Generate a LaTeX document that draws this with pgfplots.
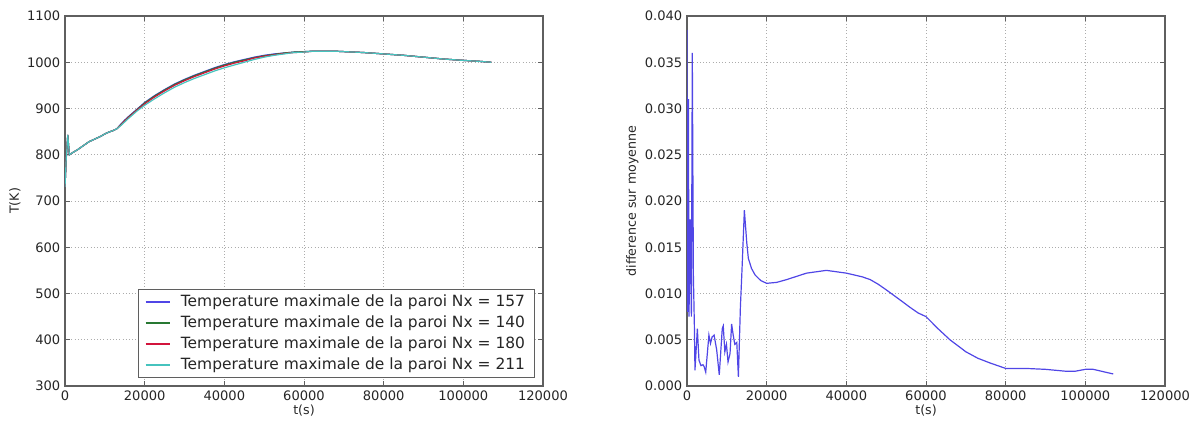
\documentclass[border=0pt]{standalone}
\usepackage{fontspec}
\setmainfont{DejaVu Sans}
\usepackage{pgfplots}
\usepackage{pgfplotstable}
\pgfplotsset{compat=1.18}

\definecolor{cB}{RGB}{80,70,230}
\definecolor{cG}{RGB}{40,120,50}
\definecolor{cR}{RGB}{210,20,60}
\definecolor{cC}{RGB}{70,195,190}
\definecolor{frame}{RGB}{95,95,95}

\pgfplotstableread{
t T
0 730
300 790
700 843
900 820
1100 800
2000 805
3000 810
4000 816
5000 822
6000 828
7000 832
8000 836
9000 840
10000 845
11000 849
12000 852
13000 856
14000 866
15000 875
16000 883
18000 898
20000 913
22500 928
25000 941
27500 953
30000 963
32500 972
35000 980
37500 988
40000 995
42500 1001
45000 1006
47500 1011
50000 1015
52500 1018
55000 1020
57500 1022
60000 1023
62500 1024
65000 1024
67500 1024
70000 1023
75000 1021
80000 1018
85000 1015
90000 1011
95000 1007
100000 1004
104000 1002
107000 1000
}\tabA

\pgfplotstableread{
t T
0 730
300 790
700 843
900 820
1100 800
2000 805
3000 810
4000 816
5000 822
6000 828
7000 832
8000 836
9000 840
10000 845
11000 849
12000 852
13000 856
14000 865
15000 874
16000 882
18000 897
20000 912
22500 927
25000 940
27500 952
30000 962
32500 971
35000 979
37500 987
40000 994
42500 1000
45000 1005
47500 1010
50000 1014
52500 1017
55000 1020
57500 1022
60000 1023
62500 1024
65000 1024
67500 1024
70000 1023
75000 1021
80000 1018
85000 1015
90000 1011
95000 1007
100000 1004
104000 1002
107000 1000
}\tabB

\pgfplotstableread{
t T
0 730
300 790
700 843
900 820
1100 800
2000 805
3000 810
4000 816
5000 822
6000 828
7000 832
8000 836
9000 840
10000 845
11000 849
12000 852
13000 856
14000 864
15000 873
16000 881
18000 896
20000 910
22500 925
25000 938
27500 950
30000 960
32500 969
35000 977
37500 985
40000 992
42500 998
45000 1003
47500 1009
50000 1013
52500 1016
55000 1019
57500 1021
60000 1022
62500 1024
65000 1024
67500 1024
70000 1023
75000 1021
80000 1018
85000 1015
90000 1011
95000 1007
100000 1004
104000 1002
107000 1000
}\tabC

\pgfplotstableread{
t T
0 730
300 790
700 843
900 820
1100 800
2000 805
3000 810
4000 816
5000 822
6000 828
7000 832
8000 836
9000 840
10000 845
11000 849
12000 852
13000 856
14000 863
15000 871
16000 879
18000 894
20000 907
22500 921
25000 934
27500 946
30000 956
32500 965
35000 973
37500 981
40000 988
42500 994
45000 1000
47500 1006
50000 1011
52500 1015
55000 1018
57500 1021
60000 1022
62500 1024
65000 1024
67500 1024
70000 1023
75000 1021
80000 1018
85000 1015
90000 1011
95000 1007
100000 1004
104000 1002
107000 1000
}\tabD

\pgfplotstableread{
t d
0 0.0385
150 0.008
350 0.031
500 0.0075
800 0.018
1100 0.0075
1330 0.036
1600 0.012
1850 0.0065
2000 0.0017
2600 0.0062
3000 0.0028
3500 0.0022
4000 0.0023
4300 0.0021
4700 0.0015
5500 0.0055
5900 0.0046
6300 0.0053
6800 0.0055
7450 0.0039
8100 0.0012
8850 0.0062
9100 0.0065
9500 0.0037
9900 0.0045
10300 0.0026
10800 0.0035
11200 0.0067
11600 0.0055
12000 0.0045
12500 0.0047
12900 0.0010
13400 0.0085
13800 0.0125
14400 0.0190
15000 0.0155
15400 0.0138
16200 0.0127
17100 0.0120
18500 0.0114
20000 0.0111
22500 0.0112
25000 0.0115
30000 0.0122
35000 0.0125
40000 0.0122
44000 0.0118
46000 0.0115
48000 0.0110
50000 0.0104
53500 0.0093
56000 0.0085
58000 0.0079
60000 0.0075
63000 0.0062
66000 0.0050
70000 0.0037
73000 0.0030
76000 0.0025
80000 0.0019
85000 0.0019
90000 0.0018
95000 0.0016
97500 0.0016
100000 0.0018
102000 0.0018
104000 0.0016
107000 0.0013
}\tabDiff

\pgfplotsset{
  mystyle/.style={
    scale only axis,
    width=358.5pt, height=277.5pt,
    xmin=0, xmax=120000,
    xtick={0,20000,40000,60000,80000,100000,120000},
    scaled x ticks=false, scaled y ticks=false,
    grid=major,
    grid style={dotted, gray!65, line width=0.6pt},
    tick align=inside,
    major tick length=3.5pt,
    axis line style={frame, line width=0.9pt},
    tick style={frame, line width=0.6pt},
    /pgf/number format/assume math mode=true,
    /pgf/number format/set thousands separator={},
    x tick label style={/pgf/number format/.cd, set thousands separator={}, fixed},
    ticklabel style={font=\fontsize{9.8}{11}\selectfont, text=black!85},
    label style={font=\fontsize{9.5}{11}\selectfont, text=black!85},
    xlabel={t(s)},
    xlabel style={yshift=4pt},
  }
}

\begin{document}
\begin{tikzpicture}
\path[use as bounding box] (-48.75pt,-27.75pt) rectangle (847.5pt,289.5pt);
\begin{axis}[mystyle,
  at={(0pt,0pt)}, anchor=south west,
  ymin=300, ymax=1100,
  ytick={300,400,500,600,700,800,900,1000,1100},
  ylabel={T(K)},
  ylabel style={yshift=-2pt},
  legend style={at={(0.983,0.022)}, anchor=south east, draw=frame, line width=0.8pt,
    font=\fontsize{11.6}{13}\selectfont, row sep=1.5pt, inner xsep=5pt, inner ysep=2pt,
    text=black!85},
  legend cell align=left,
  legend image code/.code={\draw[#1, line width=1pt] (0pt,0pt) -- (18pt,0pt);},
]
\addplot[cB, line width=0.9pt] table[x=t, y=T] {\tabA};
\addlegendentry{\hspace{6pt}Temperature maximale de la paroi Nx = 157}
\addplot[cG, line width=0.9pt] table[x=t, y=T] {\tabB};
\addlegendentry{\hspace{6pt}Temperature maximale de la paroi Nx = 140}
\addplot[cR, line width=0.9pt] table[x=t, y=T] {\tabC};
\addlegendentry{\hspace{6pt}Temperature maximale de la paroi Nx = 180}
\addplot[cC, line width=0.9pt] table[x=t, y=T] {\tabD};
\addlegendentry{\hspace{6pt}Temperature maximale de la paroi Nx = 211}
\end{axis}

\begin{axis}[mystyle,
  at={(466.5pt,0pt)}, anchor=south west,
  ymin=0, ymax=0.04,
  ytick={0,0.005,0.01,0.015,0.02,0.025,0.03,0.035,0.04},
  y tick label style={/pgf/number format/.cd, fixed, fixed zerofill, precision=3},
  ylabel={difference sur moyenne},
  ylabel style={yshift=-2pt},
]
\addplot[cB, line width=0.9pt] table[x=t, y=d] {\tabDiff};
\end{axis}
\end{tikzpicture}
\end{document}
